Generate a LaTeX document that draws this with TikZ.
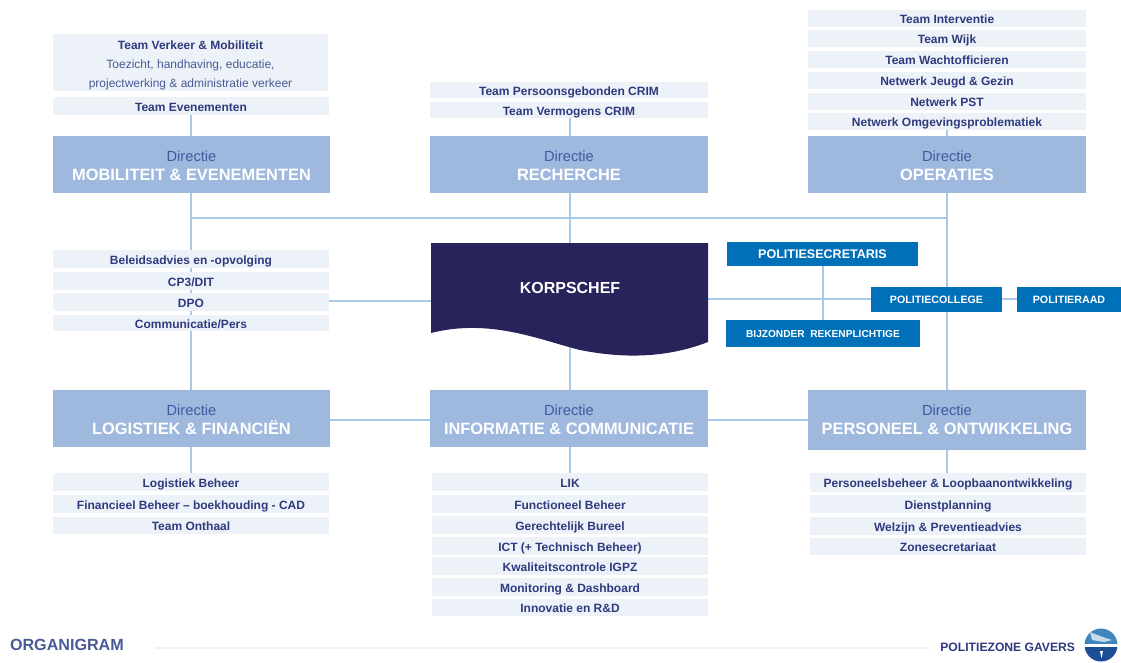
\documentclass[tikz,border=0pt]{standalone}
\usepackage{fontspec}
\setmainfont{Liberation Sans}
\definecolor{dirfill}{HTML}{9FB8DE}
\definecolor{teamfill}{HTML}{EDF2F8}
\definecolor{navytxt}{HTML}{2F3A7E}
\definecolor{dirtxt}{HTML}{3F5AA0}
\definecolor{subtxt}{HTML}{4A5A96}
\definecolor{linecol}{HTML}{A8CAE8}
\definecolor{korps}{HTML}{29235C}
\definecolor{bluebox}{HTML}{0070B8}
\definecolor{logotop}{HTML}{3F86BE}
\definecolor{logosea}{HTML}{1C4E96}
\definecolor{footline}{HTML}{F0F2F6}
\tikzset{
  txtbase/.style={anchor=base,align=center,inner sep=0pt,outer sep=0pt},
  teamtxt/.style={txtbase,text=navytxt,font=\fontsize{9pt}{11pt}\selectfont\bfseries},
  subt/.style={txtbase,text=subtxt,font=\fontsize{9pt}{11pt}\selectfont},
  dirhead/.style={txtbase,text=dirtxt,font=\fontsize{11pt}{13pt}\selectfont},
  dirname/.style={txtbase,text=white,font=\fontsize{12.3pt}{14pt}\selectfont\bfseries},
  link/.style={draw=linecol,line width=1pt}}
% name, x0, y0, x1, y1, text
\newcommand{\tm}[6]{\fill[teamfill] (#2,#3) rectangle (#4,#5);
  \node[teamtxt] (#1) at ({(#2+#4)/2},{(#3+#5)/2+5.2}) {#6};}
\newcommand{\dirbox}[6]{\fill[dirfill] (#2,#3) rectangle (#4,#5);
  \node[dirhead] (#1h) at ({(#2+#4)/2},#3+25) {Directie};
  \node[dirname] (#1) at ({(#2+#4)/2},#3+44) {#6};}
% name, x0, y0, x1, y1, font size, text
\newcommand{\bb}[7]{\fill[bluebox] (#2,#3) rectangle (#4,#5);
  \node[txtbase,text=white,font=\fontsize{#6}{10pt}\selectfont\bfseries] (#1) at ({(#2+#4)/2},{(#3+#5)/2+4}) {#7};}
\begin{document}
\begin{tikzpicture}[x=0.75pt,y=-0.75pt]
\useasboundingbox (0,0) rectangle (1121,662);
% connectors
\coordinate (mobdrop) at (191,218);
\coordinate (opsdrop) at (947,218);
\coordinate (kright) at (708,299);
\coordinate (kleft) at (431,301);
\coordinate (ktop) at (570,243);
\coordinate (kbottom) at (570,345);
\draw[link] (mobdrop) -- (opsdrop);
\draw[link] (191,115) -- (191,473);
\draw[link] (570,118) -- (ktop);
\draw[link] (kbottom) -- (570,473);
\draw[link] (947,130) -- (947,473);
\draw[link] (329,301) -- (kleft);
\draw[link] (kright) -- (871,299);
\draw[link] (1002,299) -- (1017,299);
\draw[link] (823,266) -- (823,320);
\draw[link] (330,420) -- (430,420);
\draw[link] (708,420) -- (808,420);
\draw[draw=footline,line width=1.2pt] (155,648) -- (930,648);
% top left
\fill[teamfill] (53,34) rectangle (328,91);
\node[teamtxt] (tvm) at (190.5,49) {Team Verkeer \& Mobiliteit};
\node[subt] (tvm2) at (190.5,68) {Toezicht, handhaving, educatie,};
\node[subt] (tvm3) at (190.5,87) {projectwerking \& administratie verkeer};
\tm{tev}{53}{97}{329}{115}{Team Evenementen}
\dirbox{dmob}{53}{136}{330}{193}{MOBILITEIT \& EVENEMENTEN}
% top middle
\tm{tpc}{430}{82}{708}{98}{Team Persoonsgebonden CRIM}
\tm{tvc}{430}{102}{708}{118}{Team Vermogens CRIM}
\dirbox{drec}{430}{136}{708}{193}{RECHERCHE}
% top right
\tm{tin}{808}{10}{1086}{27}{Team Interventie}
\tm{twi}{808}{30}{1086}{47}{Team Wijk}
\tm{twa}{808}{51}{1086}{68}{Team Wachtofficieren}
\tm{njg}{808}{72}{1086}{89}{Netwerk Jeugd \& Gezin}
\tm{pst}{808}{93}{1086}{110}{Netwerk PST}
\tm{nop}{808}{113}{1086}{130}{Netwerk Omgevingsproblematiek}
\dirbox{dops}{808}{136}{1086}{193}{OPERATIES}
% staff
\tm{bel}{53}{250}{329}{268}{Beleidsadvies en -opvolging}
\tm{cp}{53}{272}{329}{290}{CP3/DIT}
\tm{dpo}{53}{293}{329}{311}{DPO}
\tm{com}{53}{315}{329}{331}{Communicatie/Pers}
% korpschef
\fill[korps] (431,243) -- (708,243) -- (708,342) .. controls (672,356) and (630,360) .. (580,350) .. controls (540,340) and (490,318) .. (431,333) -- cycle;
\node[txtbase,text=white,font=\fontsize{12pt}{14pt}\selectfont\bfseries] (kc) at (570,293) {KORPSCHEF};
% blue
\bb{psec}{727}{242}{918}{266}{9.4pt}{POLITIESECRETARIS}
\bb{pcol}{871}{287}{1002}{312}{8pt}{POLITIECOLLEGE}
\bb{prd}{1017}{287}{1121}{312}{8pt}{POLITIERAAD}
\bb{bijz}{726}{320}{920}{347}{7.6pt}{BIJZONDER \ REKENPLICHTIGE}
% lower directies
\dirbox{dlog}{53}{390}{330}{447}{LOGISTIEK \& FINANCIËN}
\dirbox{dinf}{430}{390}{708}{447}{INFORMATIE \& COMMUNICATIE}
\dirbox{dper}{808}{390}{1086}{450}{PERSONEEL \& ONTWIKKELING}
% lower left
\tm{lb}{53}{473}{329}{491}{Logistiek Beheer}
\tm{fb}{53}{495}{329}{513}{Financieel Beheer – boekhouding - CAD}
\tm{to}{53}{517}{329}{534}{Team Onthaal}
% lower middle
\tm{lik}{432}{473}{708}{491}{LIK}
\tm{fub}{432}{495}{708}{513}{Functioneel Beheer}
\tm{gb}{432}{516}{708}{534}{Gerechtelijk Bureel}
\tm{ict}{432}{537}{708}{555}{ICT (+ Technisch Beheer)}
\tm{kwa}{432}{557}{708}{575}{Kwaliteitscontrole IGPZ}
\tm{mon}{432}{578}{708}{596}{Monitoring \& Dashboard}
\tm{inn}{432}{599}{708}{616}{Innovatie en R\&D}
% lower right
\tm{pb}{810}{473}{1086}{492}{Personeelsbeheer \& Loopbaanontwikkeling}
\tm{dp}{810}{495}{1086}{513}{Dienstplanning}
\tm{wz}{810}{517}{1086}{535}{Welzijn \& Preventieadvies}
\tm{zs}{810}{538}{1086}{555}{Zonesecretariaat}
% footer
\node[txtbase,anchor=base west,text=subtxt,font=\fontsize{12.1pt}{14pt}\selectfont\bfseries] (org) at (10,650) {ORGANIGRAM};
\node[txtbase,anchor=base east,text=navytxt,font=\fontsize{9.1pt}{11pt}\selectfont\bfseries] (pzg) at (1075,651) {POLITIEZONE GAVERS};
% logo
\begin{scope}
\clip (1101,645) circle (16.5);
\fill[logotop] (1084,628) rectangle (1118,644);
\fill[white!70!logotop] (1090,632) -- (1100,636) -- (1112,640) -- (1104,642) -- (1092,640) -- cycle;
\fill[white] (1084,644) rectangle (1118,647);
\fill[logosea] (1084,647) rectangle (1118,662);
\fill[white] (1100,651) -- (1103,651) -- (1101.5,658) -- cycle;
\end{scope}
\end{tikzpicture}
\end{document}
